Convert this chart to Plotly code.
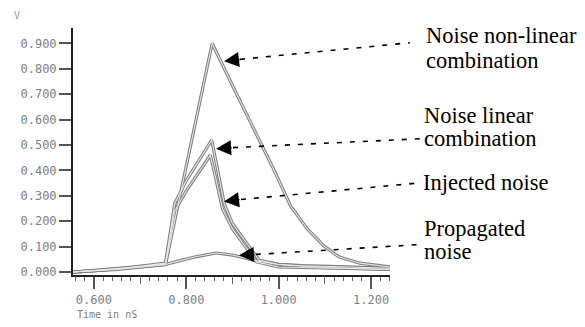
import plotly.graph_objects as go

# ---- data ----
t_nonlinear = [0.555, 0.65, 0.755, 0.856, 0.92, 0.987, 1.026, 1.062, 1.097, 1.13, 1.176, 1.241]
v_nonlinear = [0.0, 0.012, 0.03, 0.90, 0.66, 0.413, 0.259, 0.170, 0.104, 0.06, 0.035, 0.02]

t_linear = [0.555, 0.65, 0.755, 0.765, 0.775, 0.80, 0.83, 0.855, 0.868, 0.882, 0.90, 0.925, 0.958, 1.0, 1.05, 1.15, 1.241]
v_linear = [0.0, 0.012, 0.035, 0.16, 0.27, 0.36, 0.45, 0.52, 0.40, 0.27, 0.19, 0.13, 0.046, 0.03, 0.025, 0.02, 0.015]

t_injected = [0.555, 0.65, 0.755, 0.765, 0.775, 0.80, 0.83, 0.852, 0.865, 0.878, 0.90, 0.92, 0.952, 1.0, 1.1, 1.241]
v_injected = [0.0, 0.01, 0.03, 0.14, 0.24, 0.32, 0.40, 0.46, 0.36, 0.25, 0.17, 0.12, 0.04, 0.02, 0.015, 0.01]

t_propagated = [0.555, 0.65, 0.755, 0.78, 0.82, 0.865, 0.90, 0.95, 1.0, 1.1, 1.241]
v_propagated = [0.0, 0.015, 0.03, 0.042, 0.06, 0.075, 0.067, 0.045, 0.03, 0.018, 0.01]

y_tickvals = [0.0, 0.1, 0.2, 0.3, 0.4, 0.5, 0.6, 0.7, 0.8, 0.9]
y_ticktext = ["0.000", "0.100", "0.200", "0.300", "0.400", "0.500", "0.600", "0.700", "0.800", "0.900"]
x_tickvals = [0.6, 0.8, 1.0, 1.2]
x_ticktext = ["0.600", "0.800", "1.000", "1.200"]
x_midticks = [0.7, 0.9, 1.1]

label_lines = [
    ["Noise non-linear", "combination"],
    ["Noise linear", "combination"],
    ["Injected noise"],
    ["Propagated", "noise"],
]
# arrow tips (time, volts) on each curve
arrow_tips = [(0.8817, 0.830), (0.8645, 0.486), (0.8817, 0.278), (0.914, 0.066)]

# ---- layout geometry (page body adds an 8px margin on every side) ----
OFF = 8
W, H = 585 - 2 * OFF, 327 - 2 * OFF
L, R, T, B = 71, 390, 28, 280   # plot area in window pixels
XR = [0.5548, 1.2409]
YR = [-0.0116, 0.961]


def paper(xp, yp):
    return (xp - L) / (R - L), (B - yp) / (B - T)


fig = go.Figure()
series = [(t_propagated, v_propagated), (t_injected, v_injected),
          (t_linear, v_linear), (t_nonlinear, v_nonlinear)]
for t, v in series:
    fig.add_trace(go.Scatter(x=t, y=v, mode="lines",
                             line=dict(color="#808080", width=3.2),
                             hoverinfo="skip", showlegend=False))
for t, v in series:
    fig.add_trace(go.Scatter(x=t, y=v, mode="lines",
                             line=dict(color="#e6e6e6", width=1.1),
                             hoverinfo="skip", showlegend=False))
# helper trace for the medium tick axis
fig.add_trace(go.Scatter(x=t_nonlinear, y=v_nonlinear, xaxis="x2", mode="lines",
                         line=dict(width=0), hoverinfo="skip", showlegend=False,
                         opacity=0))

tickfont = dict(family="DejaVu Sans Mono", size=12, color="#808080")

fig.update_layout(
    width=W, height=H,
    margin=dict(l=L - OFF, r=(W + OFF - R), t=T - OFF, b=(H + OFF - B), pad=0),
    paper_bgcolor="white", plot_bgcolor="white",
    showlegend=False,
    xaxis=dict(range=XR, showgrid=False, zeroline=False,
               showline=True, linecolor="#222", linewidth=2,
               ticks="outside", ticklen=12, tickwidth=1.5, tickcolor="#555",
               ticklabelstandoff=1,
               tickvals=x_tickvals, ticktext=x_ticktext, tickfont=tickfont,
               minor=dict(ticks="outside", ticklen=4, tickwidth=1, tickcolor="#666",
                          dtick=0.02, showgrid=False)),
    xaxis2=dict(range=XR, overlaying="x", anchor="y", side="bottom",
                showgrid=False, zeroline=False, showline=False,
                ticks="outside", ticklen=8, tickwidth=1.2, tickcolor="#666",
                tickvals=x_midticks, showticklabels=False),
    yaxis=dict(range=YR, showgrid=False, zeroline=False,
               showline=True, linecolor="#222", linewidth=2,
               ticks="outside", ticklen=12, tickwidth=1.5, tickcolor="#555",
               tickvals=y_tickvals, ticktext=y_ticktext, tickfont=tickfont),
)

annotations = []
shapes = []

# axis titles
ax_, ay_ = paper(15, 8)
annotations.append(dict(x=ax_, y=ay_, xref="paper", yref="paper", text="V", showarrow=False,
                        xanchor="center", yanchor="top",
                        font=dict(family="DejaVu Sans Mono", size=10, color="#a0a0a0")))
ax_, ay_ = paper(73, 320)
annotations.append(dict(x=ax_, y=ay_, xref="paper", yref="paper", text="Time in nS", showarrow=False,
                        xanchor="left", yanchor="middle",
                        font=dict(family="DejaVu Sans Mono", size=10, color="#808080")))

# label text positions (left x, centre y of each line) in window pixels
text_pos = [
    (424, [36, 61]),
    (422, [117, 141]),
    (421, [186]),
    (422, [233, 256]),
]
# dashed leader lines (window pixel start -> end)
leaders = [
    ((239, 60), (410, 43)),
    ((232, 150), (420, 141)),
    ((240, 203), (420, 186)),
    ((255, 259), (419, 249)),
]
arrow_offsets = [(17, -2), (17, -1), (17, -2), (17, -1)]

for lines, (lx, ys) in zip(label_lines, text_pos):
    for txt, yy in zip(lines, ys):
        px_, py_ = paper(lx, yy)
        annotations.append(dict(x=px_, y=py_, xref="paper", yref="paper", text=txt,
                                showarrow=False, xanchor="left", yanchor="middle",
                                font=dict(family="Liberation Serif", size=22.5, color="black")))

for (p0, p1) in leaders:
    x0, y0 = paper(*p0)
    x1, y1 = paper(*p1)
    shapes.append(dict(type="line", xref="paper", yref="paper", x0=x0, y0=y0, x1=x1, y1=y1,
                       line=dict(color="black", width=1.6, dash="5px,8px")))

for (tx, tv), (oxp, oyp) in zip(arrow_tips, arrow_offsets):
    annotations.append(dict(x=tx, y=tv, xref="x", yref="y", ax=oxp, ay=oyp,
                            text="", showarrow=True, arrowhead=2, arrowsize=2.0,
                            arrowwidth=1.5, arrowcolor="black", standoff=0))

fig.update_layout(annotations=annotations, shapes=shapes)
fig.write_html("out.html")
